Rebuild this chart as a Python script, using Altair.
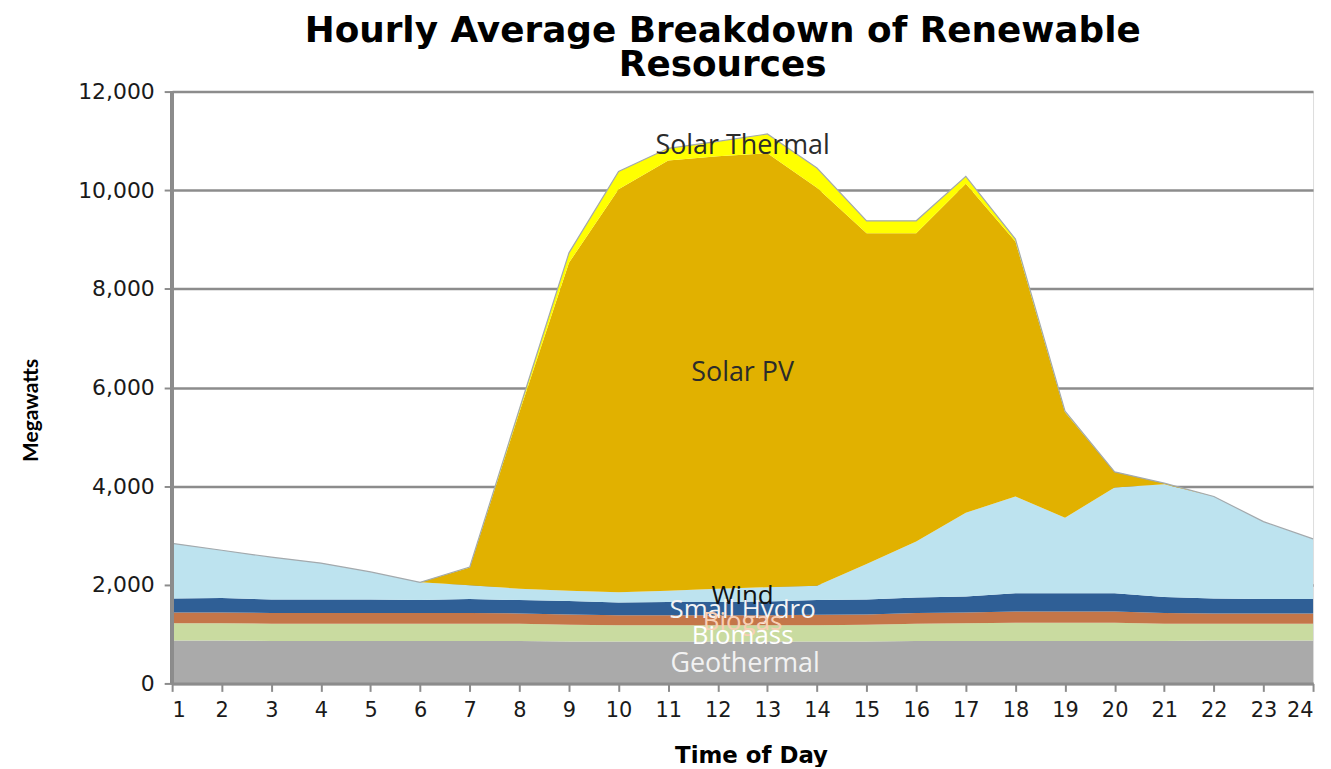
import altair as alt
import pandas as pd

hours = list(range(1, 25))
sources = ["Geothermal", "Biomass", "Biogas", "Small Hydro", "Wind", "Solar PV", "Solar Thermal"]
colors = ["#aaaaaa", "#c9dba0", "#c47649", "#2f5f96", "#bde3ef", "#e1b100", "#ffff00"]

geothermal = [870, 870, 860, 860, 860, 860, 860, 860, 850, 850, 850, 850, 850, 850, 850, 860, 860, 860, 860, 860, 860, 870, 870, 870]
biomass = [350, 350, 350, 350, 350, 350, 350, 350, 340, 330, 330, 330, 330, 330, 340, 350, 360, 370, 370, 370, 350, 340, 340, 340]
biogas = [220, 220, 220, 220, 220, 220, 220, 210, 210, 200, 200, 200, 200, 210, 210, 220, 220, 230, 230, 230, 220, 210, 210, 210]
small_hydro = [280, 290, 270, 270, 270, 260, 280, 270, 270, 260, 270, 270, 280, 300, 300, 310, 320, 370, 370, 370, 320, 300, 290, 290]
wind = [1120, 970, 860, 740, 560, 360, 280, 230, 210, 210, 230, 270, 290, 290, 720, 1140, 1700, 1960, 1530, 2140, 2290, 2070, 1570, 1220]
solar_pv = [0, 0, 0, 0, 0, 0, 360, 3580, 6650, 8170, 8720, 8770, 8800, 8070, 6710, 6250, 6670, 5170, 2140, 320, 20, 0, 0, 0]
solar_thermal = [0, 0, 0, 0, 0, 0, 10, 60, 200, 360, 250, 300, 390, 400, 250, 250, 150, 50, 20, 0, 0, 0, 0, 0]

series = [geothermal, biomass, biogas, small_hydro, wind, solar_pv, solar_thermal]

y_ticks = [0, 2000, 4000, 6000, 8000, 10000, 12000]

# in-chart labels
label_text = ["Solar Thermal", "Solar PV", "Wind", "Small Hydro", "Biogas", "Biomass", "Geothermal"]
label_hour = [12.5, 12.5, 12.5, 12.5, 12.5, 12.5, 12.55]
label_mw = [10890, 6290, 1775, 1495, 1250, 968, 383]
label_color = ["#2b2b2b", "#2b2b2b", "#111111", "#f4f4f4", "#f8cfb5", "#ffffff", "#f2f2f2"]
label_size = [27, 27, 26, 26, 26, 26, 27]

rows = []
for i, (name, vals) in enumerate(zip(sources, series)):
    for h, v in zip(hours, vals):
        rows.append({"hour": h, "source": name, "value": v, "ord": i})
df = pd.DataFrame(rows)

labels = pd.DataFrame({"label": label_text, "hour": label_hour, "mw": label_mw,
                       "color": label_color, "size": label_size})

xscale = alt.Scale(domain=[1, 24], nice=False, zero=False)
yscale = alt.Scale(domain=[0, 12000], nice=False)

x_axis = alt.Axis(values=hours, labelAngle=0, labelFont="DejaVu Sans", labelFontSize=21,
                  labelColor="#1a1a1a", labelPadding=8, tickColor="#8c8c8c", tickSize=8, tickWidth=2,
                  domainColor="#8c8c8c", domainWidth=3, grid=False, zindex=1,
                  title="Time of Day", titleFont="DejaVu Sans", titleFontSize=23,
                  titleFontWeight="bold", titleColor="#000000", titleX=582, titleY=73,
                  titleAlign="center", titleBaseline="middle")

y_axis = alt.Axis(values=y_ticks, format=",.0f", labelFont="DejaVu Sans", labelFontSize=22,
                  labelColor="#1a1a1a", labelPadding=10, tickColor="#8c8c8c", tickSize=8, tickWidth=2,
                  domain=False, grid=True, gridColor="#8c8c8c", gridWidth=2.5, zindex=0,
                  title="Megawatts", titleFont="Lato", titleFontSize=21,
                  titleFontWeight="bold", titleColor="#000000", titleX=-141, titleY=320,
                  titleAngle=270, titleAlign="center", titleBaseline="middle")

area = alt.Chart(df).mark_area(interpolate="linear").encode(
    x=alt.X("hour:Q", scale=xscale, axis=x_axis),
    y=alt.Y("value:Q", stack="zero", scale=yscale, axis=y_axis),
    color=alt.Color("source:N", scale=alt.Scale(domain=sources, range=colors), legend=None),
    order=alt.Order("ord:Q", sort="ascending"),
)

top_line = alt.Chart(df).transform_aggregate(
    total="sum(value)", groupby=["hour"]
).mark_line(color="#a3a9ad", strokeWidth=1.2).encode(
    x=alt.X("hour:Q", scale=xscale),
    y=alt.Y("total:Q", scale=yscale),
)

left_rule = alt.Chart(df).mark_rule(color="#8c8c8c", strokeWidth=3).encode(
    x=alt.datum(1), y=alt.datum(0), y2=alt.datum(12000)
)

text = alt.Chart(labels).mark_text(font="Open Sans", align="center", baseline="middle").encode(
    x=alt.X("hour:Q", scale=xscale),
    y=alt.Y("mw:Q", scale=yscale),
    text="label:N",
    color=alt.Color("color:N", scale=None),
    size=alt.Size("size:Q", scale=None),
)

chart = alt.layer(area, top_line, left_rule, text).properties(
    width=1147, height=595,
    autosize=alt.AutoSizeParams(type="none"),
    padding={"left": 165, "top": 82, "right": 10, "bottom": 82},
    title=alt.TitleParams(
        text=["Hourly Average Breakdown of Renewable", "Resources"],
        font="DejaVu Sans", fontSize=36, fontWeight="bold", color="#000000",
        anchor="middle", dx=-20, offset=-3, lineHeight=34,
    ),
).configure_view(stroke=None).configure(background="white")

chart.save("out.html", embed_options={"renderer": "svg", "actions": False})
